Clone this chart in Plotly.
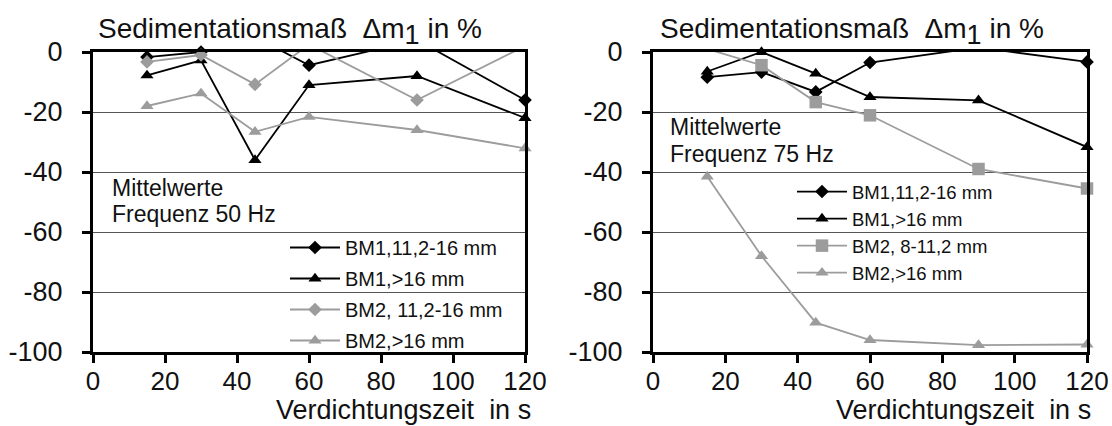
import plotly.graph_objects as go

# ---- data ----
x_time = [15, 30, 45, 60, 90, 120]

# 50 Hz (left)
l_bm1_112_16 = [-1.7, 0, 5, -4.4, 4, -16]
l_bm1_gt16 = [-7.8, -2.8, -36, -11, -8, -22]
l_bm2_112_16 = [-3.3, -1, -10.8, 2.5, -16, 2]
l_bm2_gt16 = [-18, -13.8, -26.6, -21.6, -26, -32.1]

# 75 Hz (right)
r_bm1_112_16 = [-8.4, -6.7, -13.3, -3.5, 1.5, -3.3]
r_bm1_gt16 = [-6.5, 0, -7.2, -15, -16.1, -31.7]
r_bm2_8_112 = [1, -4.4, -16.7, -21.1, -39, -45.5]
r_bm2_gt16 = [-41.5, -68, -90.2, -96, -97.7, -97.5]

left_names = ["BM1,11,2-16 mm", "BM1,>16 mm", "BM2, 11,2-16 mm", "BM2,>16 mm"]
right_names = ["BM1,11,2-16 mm", "BM1,>16 mm", "BM2, 8-11,2 mm", "BM2,>16 mm"]

y_ticks = [0, -20, -40, -60, -80, -100]
y_ticklabels = ["0", "-20", "-40", "-60", "-80", "-100"]
x_ticks = [0, 20, 40, 60, 80, 100, 120]
x_ticklabels = ["0", "20", "40", "60", "80", "100", "120"]
title_text = "Sedimentationsmaß  Δm<sub><span style='font-size:27px'>1</span></sub> in %"
xtitle_text = "Verdichtungszeit  in s"
note_lines_left = ["Mittelwerte", "Frequenz 50 Hz"]
note_lines_right = ["Mittelwerte", "Frequenz 75 Hz"]

BLACK = "#000000"
GRAY = "#9c9c9c"
FONT = "Liberation Sans, Arial, sans-serif"

fig = go.Figure()

SYM_SIZE = {"diamond": 10.5, "triangle-up": 11.5, "square": 12.5}


def add(vals, name, color, symbol, xa, ya, legend):
    # points above the axis maximum get no marker (as in the source chart)
    in_range = [i for i, v in enumerate(vals) if v <= 0]
    fig.add_trace(go.Scatter(
        x=x_time, y=vals, name=name, mode="lines+markers",
        line=dict(color=color, width=1.8),
        marker=dict(symbol=symbol, size=SYM_SIZE[symbol], color=color, line=dict(width=0)),
        selectedpoints=in_range,
        selected=dict(marker=dict(opacity=1)),
        unselected=dict(marker=dict(opacity=0)),
        xaxis=xa, yaxis=ya, legend=legend, legendgroup=legend + name,
        cliponaxis=False,
    ))


add(l_bm1_112_16, left_names[0], BLACK, "diamond", "x", "y", "legend")
add(l_bm1_gt16, left_names[1], BLACK, "triangle-up", "x", "y", "legend")
add(l_bm2_112_16, left_names[2], GRAY, "diamond", "x", "y", "legend")
add(l_bm2_gt16, left_names[3], GRAY, "triangle-up", "x", "y", "legend")

add(r_bm1_112_16, right_names[0], BLACK, "diamond", "x2", "y2", "legend2")
add(r_bm1_gt16, right_names[1], BLACK, "triangle-up", "x2", "y2", "legend2")
add(r_bm2_8_112, right_names[2], GRAY, "square", "x2", "y2", "legend2")
add(r_bm2_gt16, right_names[3], GRAY, "triangle-up", "x2", "y2", "legend2")

W, H = 1112, 426
ydom = [(H - 352) / H, (H - 52) / H]

axis_common = dict(
    showline=True, linecolor="black", linewidth=3, mirror=True,
    ticks="outside", ticklen=8, tickwidth=3, tickcolor="black",
    zeroline=False, automargin=False,
)

xax = dict(axis_common, range=[0, 120], tickvals=x_ticks, ticktext=x_ticklabels,
           showgrid=False, ticklabelstandoff=-4,
           tickfont=dict(family=FONT, size=26, color="#111"))
yax = dict(axis_common, range=[-100, 0], tickvals=y_ticks, ticktext=y_ticklabels,
           showgrid=True, gridcolor="#555555", gridwidth=1, ticklabelstandoff=14,
           tickfont=dict(family=FONT, size=27, color="#111"))

leg_common = dict(xanchor="left", yanchor="top", bgcolor="rgba(0,0,0,0)", itemwidth=50)

fig.update_layout(
    width=W, height=H,
    margin=dict(l=0, r=0, t=0, b=0, pad=0, autoexpand=False),
    paper_bgcolor="white", plot_bgcolor="white",
    font=dict(family=FONT, color="#111"),
    xaxis=dict(xax, domain=[93 / W, 525 / W], anchor="y"),
    yaxis=dict(yax, domain=ydom, anchor="x"),
    xaxis2=dict(xax, domain=[653 / W, 1087 / W], anchor="y2"),
    yaxis2=dict(yax, domain=ydom, anchor="x2"),
    legend=dict(leg_common, x=(290 - 5) / W, y=(H - 228) / H,
                font=dict(family=FONT, size=20, color="#111"), tracegroupgap=2),
    legend2=dict(leg_common, x=(797 - 5) / W, y=(H - 173) / H,
                 font=dict(family=FONT, size=18.5, color="#111"), tracegroupgap=0),
    showlegend=True,
)

annots = [
    dict(text=title_text, x=96 / W, y=(H - 32) / H, xanchor="left", yanchor="middle",
         font=dict(size=28)),
    dict(text=title_text, x=658 / W, y=(H - 32) / H, xanchor="left", yanchor="middle",
         font=dict(size=28)),
    dict(text=xtitle_text, x=533 / W, y=(H - 410) / H, xanchor="right", yanchor="middle",
         font=dict(size=27)),
    dict(text=xtitle_text, x=1093 / W, y=(H - 410) / H, xanchor="right", yanchor="middle",
         font=dict(size=27)),
    dict(text=note_lines_left[0], x=110 / W, y=(H - 188) / H, xanchor="left",
         yanchor="middle", font=dict(size=23)),
    dict(text=note_lines_left[1], x=110 / W, y=(H - 214) / H, xanchor="left",
         yanchor="middle", font=dict(size=23)),
    dict(text=note_lines_right[0], x=668 / W, y=(H - 127) / H, xanchor="left",
         yanchor="middle", font=dict(size=23)),
    dict(text=note_lines_right[1], x=668 / W, y=(H - 154) / H, xanchor="left",
         yanchor="middle", font=dict(size=23)),
]
for a in annots:
    a.update(xref="paper", yref="paper", showarrow=False)
    a["font"].update(family=FONT, color="#111")
fig.update_layout(annotations=annots)

fig.write_html("out.html")
